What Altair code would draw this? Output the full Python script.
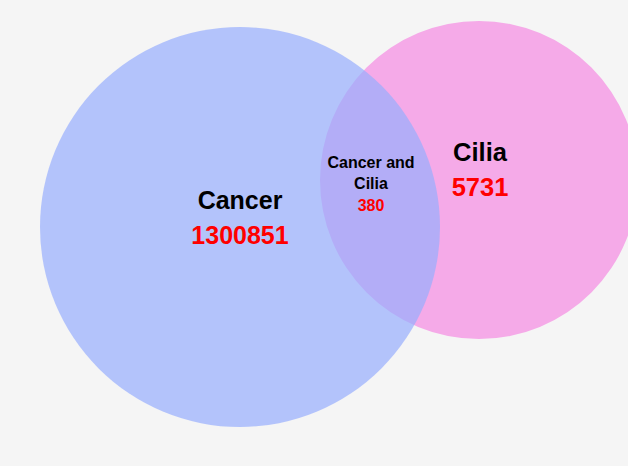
import altair as alt
import pandas as pd

# Data
set_names = ["Cilia", "Cancer"]
set_counts = [5731, 1300851]
overlap_label = ["Cancer and", "Cilia"]
overlap_count = 380

# Layout (pixel coordinates of the diagram)
circle_cx = [479, 240]
circle_cy = [180, 227]
circle_r = [159, 200]
circle_color = ["#f5aae8", "#97aefe"]
circle_opacity = [1.0, 0.7]

W, H = 628, 466

circles = pd.DataFrame({
    "name": set_names,
    "cx": circle_cx,
    "cy": circle_cy,
    "size": [(2 * r) ** 2 for r in circle_r],
    "color": circle_color,
    "opacity": circle_opacity,
})

xs = alt.Scale(domain=[0, W], range=[0, W])
ys = alt.Scale(domain=[H, 0])

circ = alt.Chart(circles).mark_circle(stroke=None).encode(
    x=alt.X("cx:Q", scale=xs, axis=None),
    y=alt.Y("cy:Q", scale=ys, axis=None),
    size=alt.Size("size:Q", scale=None, legend=None),
    color=alt.Color("color:N", scale=None),
    opacity=alt.Opacity("opacity:Q", scale=None),
    order=alt.Order("size:Q", sort="ascending"),
)

labels = pd.DataFrame({
    "text": ["Cancer", f"{set_counts[1]}", "Cilia", f"{set_counts[0]}",
             overlap_label[0], overlap_label[1], f"{overlap_count}"],
    "x": [240, 240, 480, 480, 371, 371, 371],
    "y": [208.5, 244, 160.7, 196, 168.3, 189.3, 211],
    "fs": [25, 25, 25.5, 25.5, 16, 16, 16],
    "col": ["#000000", "#ff0000", "#000000", "#ff0000", "#000000", "#000000", "#ff0000"],
})

txt = alt.Chart(labels).mark_text(
    font="Liberation Sans", fontWeight="bold", align="center", baseline="alphabetic"
).encode(
    x=alt.X("x:Q", scale=xs, axis=None),
    y=alt.Y("y:Q", scale=ys, axis=None),
    text="text:N",
    size=alt.Size("fs:Q", scale=None, legend=None),
    color=alt.Color("col:N", scale=None),
)

chart = alt.layer(circ, txt).properties(
    width=W, height=H, padding=0, autosize=alt.AutoSizeParams(type="none"),
    background="#f5f5f5",
).configure_view(stroke=None, clip=False)

chart.save("out.html", embed_options={"renderer": "svg", "actions": False})
